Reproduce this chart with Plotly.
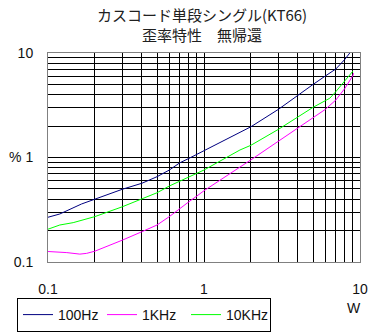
import plotly.graph_objects as go

# Output power (W) vs. distortion (%) for three test frequencies
w_100hz = [0.1, 0.119, 0.164, 0.2, 0.3, 0.4, 0.5, 0.6, 0.7, 0.8, 0.9, 1.0,
           1.7, 2.0, 3.0, 4.0, 5.0, 6.0, 7.0, 8.0, 8.6]
d_100hz = [0.268, 0.288, 0.359, 0.40, 0.497, 0.567, 0.655, 0.759, 0.89, 0.98, 1.07, 1.16,
           1.73, 1.97, 2.89, 3.96, 5.0, 6.03, 7.03, 8.7, 10.0]

w_1khz = [0.1, 0.132, 0.16, 0.177, 0.2, 0.244, 0.3, 0.4, 0.5, 0.6, 0.7, 0.8, 0.9, 1.0,
          2.0, 3.0, 4.0, 5.0, 6.0, 7.0, 8.0, 9.0, 9.1]
d_1khz = [0.126, 0.123, 0.119, 0.121, 0.127, 0.142, 0.162, 0.195, 0.226, 0.272, 0.327, 0.377, 0.428, 0.481,
          0.95, 1.44, 1.90, 2.40, 2.89, 3.55, 4.59, 6.07, 6.4]

w_10khz = [0.1, 0.119, 0.145, 0.2, 0.3, 0.4, 0.5, 0.6, 0.7, 0.8, 0.9, 1.0,
           1.7, 2.0, 3.0, 4.0, 5.0, 6.0, 6.4, 7.0, 8.0, 9.0]
d_10khz = [0.206, 0.226, 0.238, 0.272, 0.338, 0.40, 0.46, 0.534, 0.596, 0.655, 0.706, 0.759,
           1.18, 1.31, 1.86, 2.45, 3.02, 3.50, 3.69, 4.27, 5.43, 6.7]

series_names = ["100Hz", "1KHz", "10KHz"]
series_colors = ["#000080", "#ff00ff", "#00ff00"]

title_lines = ["カスコード単段シングル(KT66)", "歪率特性\u3000無帰還"]

# Log grid: every 1..9 step in each decade, labels only on decades
grid_vals = [m * 10 ** e for e in (-1, 0) for m in range(1, 10)] + [10]
x_labels = {0.1: "0.1", 1: "1", 10: "10"}
y_labels = {0.1: "0.1", 1: "% 1", 10: "10"}

fig = go.Figure()
for xs, ys, name, color in zip([w_100hz, w_1khz, w_10khz],
                               [d_100hz, d_1khz, d_10khz],
                               series_names, series_colors):
    fig.add_trace(go.Scatter(x=xs, y=ys, mode="lines", name=name,
                             line=dict(color=color, width=1)))

tick_font = dict(family="Liberation Sans, Arial", size=14, color="#111111")

axis_common = dict(
    type="log", showgrid=True, gridcolor="black", gridwidth=1,
    showline=True, linecolor="#808080", linewidth=1, mirror=True,
    ticks="outside", tickcolor="white", zeroline=False,
    tickvals=grid_vals, tickfont=tick_font, automargin=False,
)
fig.update_xaxes(range=[-1, 1], ticklen=14,
                 ticktext=[x_labels.get(round(v, 3), "") for v in grid_vals],
                 **axis_common)
fig.update_yaxes(range=[-1, 1], ticklen=11,
                 ticktext=[y_labels.get(round(v, 3), "") for v in grid_vals],
                 **axis_common)

title_font = dict(family="Noto Sans CJK JP", size=15, color="#202020")
fig.add_annotation(text="<br>".join(title_lines), x=0.495, y=1.138,
                   xref="paper", yref="paper", showarrow=False,
                   xanchor="center", yanchor="middle", align="center", font=title_font)
fig.add_annotation(text="W", x=0.981, y=-0.22, xref="paper", yref="paper",
                   showarrow=False, xanchor="center", yanchor="middle", font=tick_font)

fig.update_layout(
    width=372, height=332,
    margin=dict(l=48, r=12, t=53, b=70, autoexpand=False),
    paper_bgcolor="white", plot_bgcolor="white",
    showlegend=True,
    legend=dict(orientation="h", xref="container", yref="container",
                x=0.0457, y=0.1024, xanchor="left", yanchor="top",
                bordercolor="black", borderwidth=1, bgcolor="white",
                font=tick_font, itemwidth=30, tracegroupgap=0,
                entrywidth=39, entrywidthmode="pixels"),
)

fig.write_html("out.html")
